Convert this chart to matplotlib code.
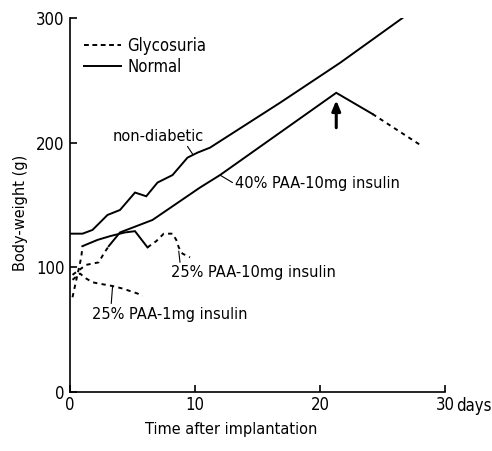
import matplotlib
matplotlib.use("Agg")
import matplotlib.pyplot as plt
from matplotlib.lines import Line2D

plt.rcParams['font.family'] = ['DejaVu Sans']
plt.rcParams['font.stretch'] = 'condensed'

# ---- data (days, body-weight g) ----
nd_days = [0, 1, 1.8, 3.0, 4.0, 5.2, 6.1, 7.0, 8.2, 9.4, 10.2, 11.2, 16.8, 21.6, 26.6]
nd_wt   = [127, 127, 130, 142, 146, 160, 157, 168, 174, 188, 192, 196, 232, 264, 300]

p40_gly_days = [0.2, 1.3, 2.3, 2.7, 3.1]
p40_gly_wt   = [94, 102, 104, 111, 117]
p40_nor_days = [3.1, 4.0, 6.6, 10.4, 12.0, 21.3, 24.2]
p40_nor_wt   = [117, 128, 138, 164, 174, 240, 223]
p40_gly2_days = [24.2, 28.2]
p40_gly2_wt   = [223, 197]

p25h_gly_days = [0.2, 0.9, 1.0]
p25h_gly_wt   = [76, 108, 117]
p25h_nor_days = [1.0, 2.2, 3.2, 4.4, 5.2, 6.2]
p25h_nor_wt   = [117, 122, 125, 128, 129, 116]
p25h_gly2_days = [6.2, 6.9, 7.5, 8.2, 8.5, 8.7, 9.0, 9.6]
p25h_gly2_wt   = [116, 121, 127, 127, 122, 116, 111, 108]

p25l_days = [0.2, 0.8, 1.3, 1.8, 2.3, 3.4, 4.2, 5.4, 5.8]
p25l_wt   = [90, 95, 91, 88, 87, 85, 83, 79, 77]

x_ticks = [0, 10, 20, 30]
y_ticks = [0, 100, 200, 300]

fig = plt.figure(figsize=(4.92, 4.51), dpi=100)
ax = fig.add_axes([70/492, 1-392/451, 375/492, 374/451])

solid = dict(color='black', lw=1.4, ls='-', solid_joinstyle='miter')
dash = dict(color='black', lw=1.4, ls=(0, (2.2, 2.2)))

ax.plot(nd_days, nd_wt, **solid)
ax.plot(p40_gly_days, p40_gly_wt, **dash)
ax.plot(p40_nor_days, p40_nor_wt, **solid)
ax.plot(p40_gly2_days, p40_gly2_wt, **dash)
ax.plot(p25h_gly_days, p25h_gly_wt, **dash)
ax.plot(p25h_nor_days, p25h_nor_wt, **solid)
ax.plot(p25h_gly2_days, p25h_gly2_wt, **dash)
ax.plot(p25l_days, p25l_wt, **dash)

fs = 11.7

ax.set_xlim(0, 30)
ax.set_ylim(0, 300)
ax.spines['top'].set_visible(False)
ax.spines['right'].set_visible(False)
ax.spines['left'].set_linewidth(1.2)
ax.spines['bottom'].set_linewidth(1.2)
ax.set_xticks(x_ticks)
ax.set_xticklabels([str(t) for t in x_ticks])
ax.set_yticks(y_ticks)
ax.set_yticklabels([str(t) for t in y_ticks])
ax.tick_params(direction='in', length=5, width=1.2, labelsize=12, pad=4)
ax.tick_params(axis='x', pad=3)
ax.annotate('days', xy=(30, 0), xycoords='data', xytext=(8, -3.5),
            textcoords='offset points', ha='left', va='top', fontsize=12,
            annotation_clip=False)

ax.set_xlabel('Time after implantation', fontsize=fs)
ax.xaxis.set_label_coords(0.43, -0.08)
ax.set_ylabel('Body-weight (g)', fontsize=fs)
ax.yaxis.set_label_coords(-0.112, 0.48)

ax.text(3.4, 205, 'non-diabetic', fontsize=fs, ha='left', va='center')
ax.annotate('', xy=(9.8, 191), xytext=(9.4, 197),
            arrowprops=dict(arrowstyle='-', lw=0.8, shrinkA=0, shrinkB=0))
ax.text(13.2, 167, '40% PAA-10mg insulin', fontsize=fs, ha='left', va='center')
ax.annotate('', xy=(12.0, 174), xytext=(13.0, 168),
            arrowprops=dict(arrowstyle='-', lw=0.8, shrinkA=0, shrinkB=0))
ax.text(8.1, 96, '25% PAA-10mg insulin', fontsize=fs, ha='left', va='center')
ax.annotate('', xy=(8.7, 113), xytext=(8.8, 104),
            arrowprops=dict(arrowstyle='-', lw=0.8, shrinkA=0, shrinkB=0))
ax.text(1.8, 62, '25% PAA-1mg insulin', fontsize=fs, ha='left', va='center')
ax.annotate('', xy=(3.4, 84), xytext=(3.3, 71),
            arrowprops=dict(arrowstyle='-', lw=0.8, shrinkA=0, shrinkB=0))

ax.annotate('', xy=(21.3, 234), xytext=(21.3, 212),
            arrowprops=dict(arrowstyle='-|>,head_length=0.6,head_width=0.25',
                            lw=2.2, color='black', shrinkA=0, shrinkB=0))

handles = [Line2D([], [], color='black', lw=1.4, ls=(0, (2.5, 1.8))),
           Line2D([], [], color='black', lw=1.4, ls='-')]
ax.legend(handles, ['Glycosuria', 'Normal'], loc='upper left',
          bbox_to_anchor=(0.02, 0.968), frameon=False, fontsize=12,
          handlelength=2.2, handletextpad=0.4, labelspacing=0.2,
          borderaxespad=0)

fig.savefig('out.png', dpi=100)
